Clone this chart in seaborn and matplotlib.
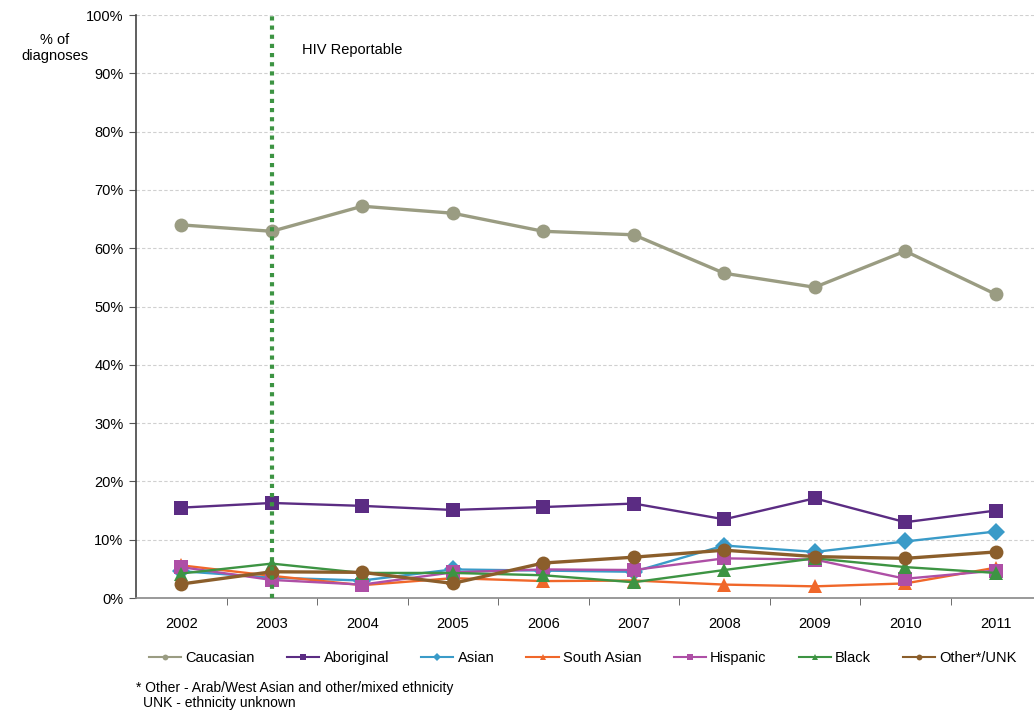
import matplotlib
matplotlib.use("Agg")
import matplotlib.pyplot as plt
import seaborn as sns
import pandas as pd

years = ["2002", "2003", "2004", "2005", "2006", "2007", "2008", "2009", "2010", "2011"]
caucasian = [64.0, 62.9, 67.2, 66.0, 62.9, 62.3, 55.7, 53.3, 59.5, 52.1]
aboriginal = [15.5, 16.3, 15.8, 15.1, 15.6, 16.2, 13.5, 17.1, 13.0, 15.0]
asian = [4.6, 3.5, 3.0, 4.9, 4.7, 4.5, 9.0, 7.9, 9.7, 11.4]
south_asian = [5.6, 3.8, 2.2, 3.4, 2.9, 3.0, 2.3, 2.0, 2.5, 5.2]
hispanic = [5.3, 3.1, 2.3, 4.4, 4.9, 4.8, 6.8, 6.6, 3.3, 4.7]
black = [4.2, 5.9, 4.3, 4.3, 3.9, 2.7, 4.8, 6.8, 5.3, 4.3]
other_unk = [2.4, 4.5, 4.4, 2.5, 6.0, 7.0, 8.2, 7.1, 6.8, 7.9]

groups = ["Caucasian", "Aboriginal", "Asian", "South Asian", "Hispanic", "Black", "Other*/UNK"]
series = [caucasian, aboriginal, asian, south_asian, hispanic, black, other_unk]
colors = ["#9a9c82", "#5b2c83", "#3a9bc8", "#f0672a", "#ae4fa6", "#3d9443", "#8b5e2b"]
markers = ["o", "s", "D", "^", "s", "^", "o"]
sizes = [10, 10, 9, 10, 10, 10, 10]
widths = [2.4, 1.7, 1.7, 1.7, 1.7, 1.7, 2.4]

rows = []
for g, vals in zip(groups, series):
    for i, v in enumerate(vals):
        rows.append({"year": i, "group": g, "pct": v})
df = pd.DataFrame(rows)

plt.rcParams["font.family"] = ["Liberation Sans", "DejaVu Sans"]
fig = plt.figure(figsize=(10.34, 7.13), dpi=100)
ax = fig.add_axes([136 / 1034, 115 / 713, 905 / 1034, 583 / 713])

sns.lineplot(data=df, x="year", y="pct", hue="group", style="group",
             hue_order=groups, style_order=groups,
             palette=dict(zip(groups, colors)),
             markers=dict(zip(groups, markers)), dashes=False,
             markeredgewidth=0, ax=ax, legend=True)

for line, ms, lw in zip(ax.lines[:len(groups)], sizes, widths):
    line.set_markersize(ms)
    line.set_linewidth(lw)

ax.set_xlim(-0.5, 9.5)
ax.set_ylim(0, 100)
ax.set_yticks(range(0, 101, 10))
ax.set_yticklabels([f"{v}%" for v in range(0, 101, 10)], fontsize=10.5)
ax.set_xticks(range(len(years)))
ax.set_xticklabels(years, fontsize=10.5)
ax.set_xticks([i + 0.5 for i in range(len(years) - 1)], minor=True)
ax.tick_params(axis="x", which="major", length=0, pad=14)
ax.tick_params(axis="x", which="minor", length=5, direction="out", color="#555555")
ax.tick_params(axis="y", length=5, direction="out", color="#555555", pad=4)
ax.set_xlabel("")
ax.set_ylabel("")
ax.grid(axis="y", color="#d0d0d0", linestyle=(0, (3, 2)), linewidth=0.8)
ax.set_axisbelow(True)
for s in ["top", "right"]:
    ax.spines[s].set_visible(False)
ax.spines["left"].set_color("#444444")
ax.spines["bottom"].set_color("#888888")
ax.spines["left"].set_linewidth(1.2)
ax.spines["bottom"].set_linewidth(1.2)

# reporting start marker
ax.axvline(1, color="#3d9443", linestyle=(0, (1, 1.2)), linewidth=3, zorder=5)
ax.text(1.33, 94, "HIV Reportable", fontsize=10.5, va="center", ha="left")

fig.text(55 / 1034, 1 - 48 / 713, "% of\ndiagnoses", ha="center", va="center",
         fontsize=10.5, linespacing=1.25)

handles, labels = ax.get_legend_handles_labels()
ax.legend(handles, labels, loc="center", bbox_to_anchor=(0.494, -60 / 583),
          ncol=7, frameon=False, fontsize=10.5, markerscale=0.7,
          handlelength=2.2, columnspacing=2.2, handletextpad=0.3)

fig.text(136 / 1034, 1 - 688 / 713, "* Other - Arab/West Asian and other/mixed ethnicity",
         fontsize=10, ha="left", va="center")
fig.text(143 / 1034, 1 - 703 / 713, "UNK - ethnicity unknown",
         fontsize=10, ha="left", va="center")

fig.savefig("out.png", dpi=100)
